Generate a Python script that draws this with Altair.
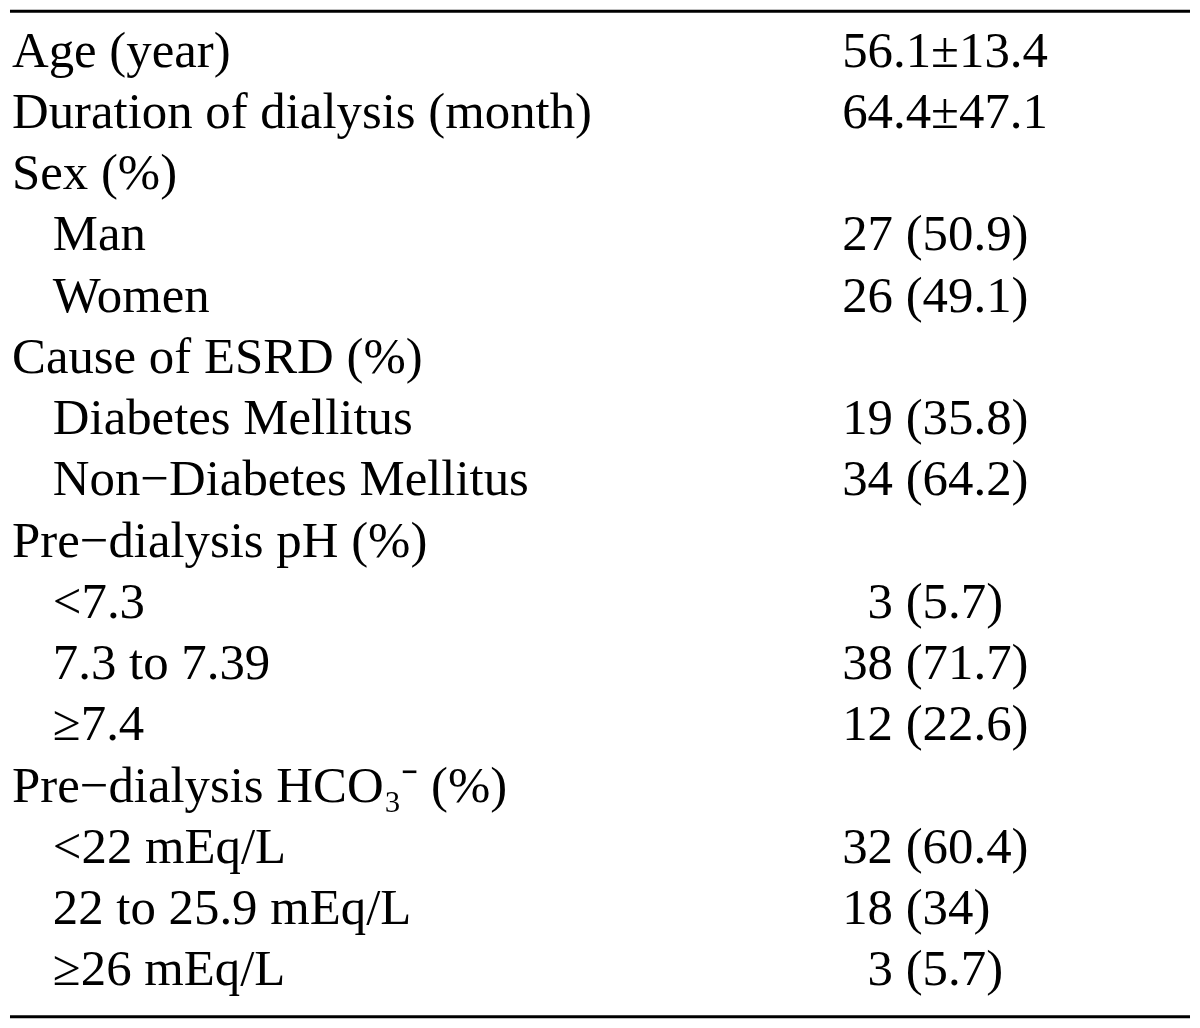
import altair as alt
import pandas as pd

labels = [
    "Age (year)",
    "Duration of dialysis (month)",
    "Sex (%)",
    "Man",
    "Women",
    "Cause of ESRD (%)",
    "Diabetes Mellitus",
    "Non\u2212Diabetes Mellitus",
    "Pre\u2212dialysis pH (%)",
    "<7.3",
    "7.3 to 7.39",
    "\u22657.4",
    "Pre\u2212dialysis HCO\u2083\u207b (%)",
    "<22 mEq/L",
    "22 to 25.9 mEq/L",
    "\u226526 mEq/L",
]
values = [
    "56.1\u00b113.4",
    "64.4\u00b147.1",
    "",
    "27 (50.9)",
    "26 (49.1)",
    "",
    "19 (35.8)",
    "34 (64.2)",
    "",
    "\u200d\u00a0\u00a03 (5.7)",
    "38 (71.7)",
    "12 (22.6)",
    "",
    "32 (60.4)",
    "18 (34)",
    "\u200d\u00a0\u00a03 (5.7)",
]
indent = [0, 0, 0, 1, 1, 0, 1, 1, 0, 1, 1, 1, 0, 1, 1, 1]

df = pd.DataFrame({"row": list(range(len(labels))), "label": labels,
                   "value": values, "indent": indent})

W, H = 1184, 1012
FONT = "Liberation Serif"
FS = 51

yenc = alt.Y("row:Q", axis=None,
             scale=alt.Scale(domain=[-0.9273, 15.536], nice=False, zero=False, reverse=True))

base = alt.Chart(df)

left = base.transform_calculate(xp="datum.indent ? 43 : 2").mark_text(
    align="left", baseline="alphabetic", font=FONT, fontSize=FS, color="black"
).encode(x=alt.X("xp:Q", scale=None, axis=None), y=yenc, text="label:N")

right = base.transform_filter("datum.value != ''").mark_text(
    align="left", baseline="alphabetic", font=FONT, fontSize=FS, color="black"
).encode(x=alt.value(835), y=yenc, text="value:N")

one = alt.Chart(pd.DataFrame({"k": [0]}))
top_rule = one.mark_rule(color="black", strokeWidth=3).encode(
    x=alt.value(0), x2=alt.value(W), y=alt.value(1.5))
bottom_rule = one.mark_rule(color="black", strokeWidth=3).encode(
    x=alt.value(0), x2=alt.value(W), y=alt.value(1010.5))

chart = alt.layer(top_rule, bottom_rule, left, right).properties(
    width=W, height=H, padding=0
).configure_view(stroke=None)

chart.save("out.html", embed_options={"renderer": "svg", "actions": False})
